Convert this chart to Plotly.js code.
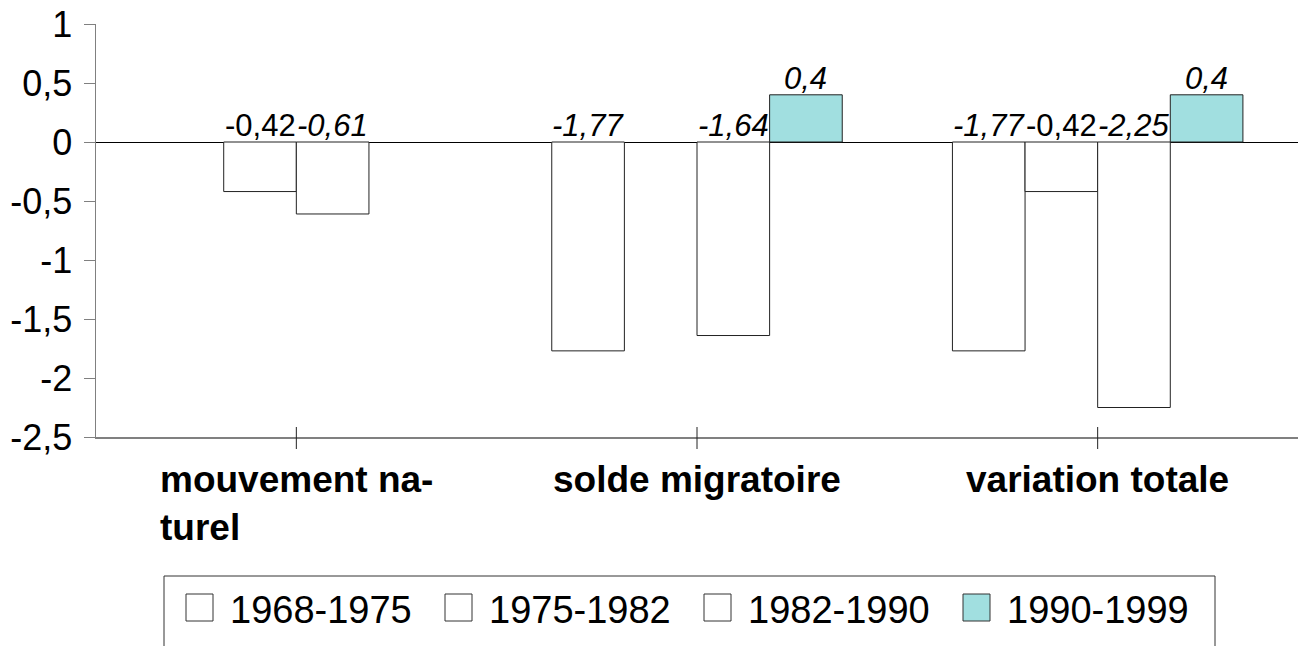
<!DOCTYPE html>
<html>
<head>
<meta charset="utf-8">
<script src="https://cdn.plot.ly/plotly-3.0.1.min.js"></script>
<style>
html,body{margin:0;padding:0;background:#fff;}
#chart{width:1298px;height:646px;}
</style>
</head>
<body>
<div id="chart"></div>
<script>
// ---- data ----
const categories = ["mouvement naturel", "solde migratoire", "variation totale"];
const categoryLabels = ["mouvement na-<br>turel", "solde migratoire", "variation totale"];
const seriesNames = ["1968-1975", "1975-1982", "1982-1990", "1990-1999"];
const s1968_1975 = [null, -1.77, -1.77];
const s1975_1982 = [-0.42, null, -0.42];
const s1982_1990 = [-0.61, -1.64, -2.25];
const s1990_1999 = [null, 0.4, 0.4];
const yTickVals = [-2.5, -2, -1.5, -1, -0.5, 0, 0.5, 1];
const yTickText = ["-2,5", "-2", "-1,5", "-1", "-0,5", "0", "0,5", "1"];

// ---- styles ----
const seriesValues = [s1968_1975, s1975_1982, s1982_1990, s1990_1999];
const seriesFill = ["#ffffff", "#ffffff", "#ffffff", "#a1dfe0"];
const labelItalic = [true, false, true, true];
const FONT = "Liberation Sans, Arial, sans-serif";
const W = 1298, H = 646;
const M = {l: 96, r: 0, t: 24, b: 209};
const bargap = 0.275;
const nSeries = seriesValues.length;
const xIdx = categories.map((c, i) => i);

const px2paperX = px => (px - M.l) / (W - M.l - M.r);
const px2paperY = py => (H - M.b - py) / (H - M.t - M.b);

const traces = seriesValues.map((vals, s) => ({
  type: "bar",
  name: seriesNames[s],
  x: xIdx,
  y: vals,
  marker: {color: seriesFill[s], line: {color: "#222", width: 1}},
  hoverinfo: "skip",
  showlegend: false
}));

const annotations = [];
const bw = (1 - bargap) / nSeries;
seriesValues.forEach((vals, s) => {
  vals.forEach((v, i) => {
    if (v === null) return;
    annotations.push({
      xref: "x", yref: "y",
      x: i + (s - (nSeries - 1) / 2) * bw,
      y: Math.max(v, 0),
      yanchor: "bottom", xanchor: "center",
      text: String(v).replace(".", ","),
      showarrow: false,
      yshift: -3,
      font: {family: FONT, size: 31, color: "#000", style: labelItalic[s] ? "italic" : "normal"}
    });
  });
});

// category labels
categoryLabels.forEach((lab, i) => {
  annotations.push({
    xref: "x", yref: "paper",
    x: i, y: px2paperY(457),
    xanchor: "center", yanchor: "top", align: "left",
    text: "<b>" + lab + "</b>",
    showarrow: false,
    font: {family: FONT, size: 37, color: "#000"}
  });
});

// custom legend
const shapes = [];
const legLeft = 164, legTop = 576, legRight = 1215, legBottom = 680;
shapes.push({type: "rect", xref: "paper", yref: "paper",
  x0: px2paperX(legLeft), x1: px2paperX(legRight),
  y0: px2paperY(legTop), y1: px2paperY(legBottom),
  line: {color: "#333", width: 1}, fillcolor: "rgba(0,0,0,0)"});
seriesNames.forEach((name, s) => {
  const sx = 186 + 259 * s;
  shapes.push({type: "rect", xref: "paper", yref: "paper",
    x0: px2paperX(sx), x1: px2paperX(sx + 27),
    y0: px2paperY(594), y1: px2paperY(621),
    line: {color: "#333", width: 1}, fillcolor: seriesFill[s]});
  annotations.push({
    xref: "paper", yref: "paper",
    x: px2paperX(sx + 42), y: px2paperY(610),
    xanchor: "left", yanchor: "middle",
    text: name, showarrow: false,
    font: {family: FONT, size: 38, color: "#000"}
  });
});

// crossing category ticks on the x axis
xIdx.forEach(i => {
  shapes.push({type: "line", xref: "x", yref: "paper",
    x0: i, x1: i, y0: px2paperY(449), y1: px2paperY(427),
    line: {color: "#222", width: 1}});
});

const layout = {
  width: W, height: H,
  margin: M,
  paper_bgcolor: "#fff", plot_bgcolor: "#fff",
  barmode: "group", bargap: bargap, bargroupgap: 0,
  separators: ",.",
  showlegend: false,
  font: {family: FONT, color: "#000"},
  xaxis: {
    type: "linear", range: [-0.5, categories.length - 0.5],
    showticklabels: false, ticks: "", showgrid: false, zeroline: false,
    showline: true, linecolor: "#808080", linewidth: 1.5
  },
  yaxis: {
    range: [-2.5, 1], tickmode: "array", tickvals: yTickVals, ticktext: yTickText,
    ticks: "outside", ticklen: 11, tickcolor: "#808080", tickwidth: 1,
    showline: true, linecolor: "#808080", linewidth: 1.5,
    showgrid: false, zeroline: true, zerolinecolor: "#000", zerolinewidth: 1,
    tickfont: {family: FONT, size: 36, color: "#000"},
    ticklabelstandoff: 4
  },
  annotations: annotations,
  shapes: shapes
};

Plotly.newPlot("chart", traces, layout, {staticPlot: true, displayModeBar: false});
</script>
</body>
</html>
